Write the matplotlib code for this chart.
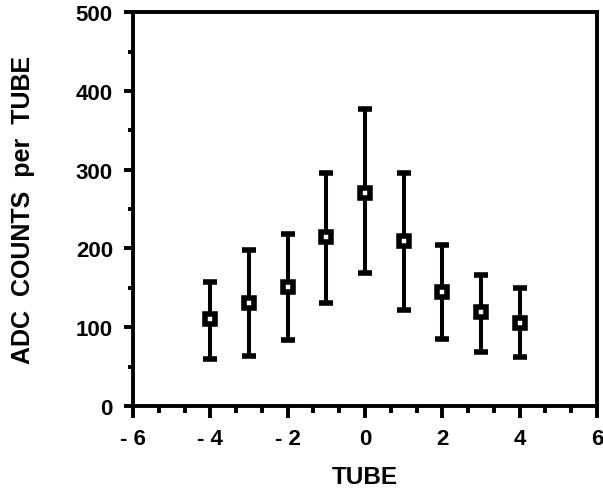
"""ADC counts per tube with error bars."""

import matplotlib

matplotlib.use("Agg")
import matplotlib.pyplot as plt
from matplotlib.ticker import AutoMinorLocator, FixedLocator

TUBE = [-4, -3, -2, -1, 0, 1, 2, 3, 4]
COUNTS = [110, 131, 151, 214, 271, 209, 145, 119, 105]
ERR_LOW = [60, 64, 84, 131, 169, 122, 85, 68, 62]
ERR_HIGH = [158, 198, 218, 296, 377, 296, 205, 166, 150]

X_TICKS = [-6, -4, -2, 0, 2, 4, 6]
X_TICK_LABELS = ["- 6", "- 4", "- 2", "0", "2", "4", "6"]
Y_TICKS = [0, 100, 200, 300, 400, 500]

plt.rcParams["font.family"] = ["Liberation Sans", "DejaVu Sans"]
plt.rcParams["font.weight"] = "bold"


def main():
    fig = plt.figure(figsize=(6.03, 4.89), dpi=100)
    ax = fig.add_axes([0.2206, 0.1677, 0.7694, 0.8053])

    lower = [c - lo for c, lo in zip(COUNTS, ERR_LOW)]
    upper = [hi - c for c, hi in zip(COUNTS, ERR_HIGH)]
    ax.errorbar(TUBE, COUNTS, yerr=[lower, upper], fmt="s", color="black",
                ecolor="black", elinewidth=2.9, capsize=5, capthick=3,
                markersize=7.5, markerfacecolor="white", markeredgecolor="black",
                markeredgewidth=4)

    ax.set_xlim(-6, 6)
    ax.set_ylim(0, 500)
    ax.xaxis.set_major_locator(FixedLocator(X_TICKS))
    ax.set_xticklabels(X_TICK_LABELS)
    ax.set_yticks(Y_TICKS)
    ax.xaxis.set_minor_locator(AutoMinorLocator(3))
    ax.yaxis.set_minor_locator(AutoMinorLocator(2))

    ax.tick_params(which="both", direction="out", width=2.8, top=False, right=False,
                   labelsize=16)
    ax.tick_params(axis="x", which="major", length=8.6, pad=7)
    ax.tick_params(axis="x", which="minor", length=5)
    ax.tick_params(axis="y", which="major", length=6.5, pad=8)
    ax.tick_params(axis="y", which="minor", length=3.5)
    for s in ax.spines.values():
        s.set_linewidth(2.8)

    ax.set_xlabel("TUBE", fontsize=17.5, fontweight="bold", labelpad=12)
    ax.set_ylabel("ADC  COUNTS  per  TUBE", fontsize=18, fontweight="bold", labelpad=29)

    fig.savefig("out.png", dpi=100)


if __name__ == "__main__":
    main()
